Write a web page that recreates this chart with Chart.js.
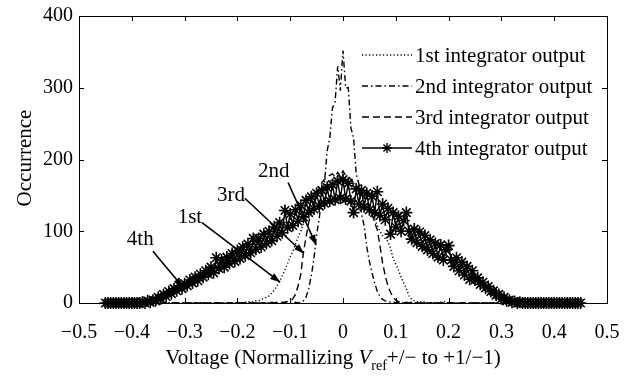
<!DOCTYPE html>
<html>
<head>
<meta charset="utf-8">
<script src="https://cdn.jsdelivr.net/npm/chart.js@4.4.1/dist/chart.umd.min.js"></script>
<style>
  html, body { margin: 0; padding: 0; background: #fff; }
  #wrap { width: 633px; height: 378px; }
</style>
</head>
<body>
<div id="wrap"><canvas id="histChart" width="633" height="378"></canvas></div>
<script>
// histogram bins, centres from -0.45 to 0.45
var binStart = -0.45, binWidth = 0.005;

// occurrence per bin (10 bins per row = 0.05 V)
var occ1st = [
  0,0,0,0,0,0,0,0,0,0,
  0,0,0,0,0,0,0,0,0,0,
  0,0,0,0,0,0,0,0,0,0,
  0,0,0,0,0,0,0,0,0,0,
  0,0,0,0,0,0,0,0,0,0,
  0,1,0,1,2,1,2,3,3,5,
  6,8,10,14,18,24,30,38,46,55,
  64,72,82,92,100,110,118,126,134,142,
  150,156,160,164,168,170,172,174,176,175,
  178,174,172,170,166,163,158,152,146,138,
  132,124,116,108,100,94,90,86,76,62,
  54,46,36,28,20,10,5,3,2,1,
  2,1,0,1,0,1,0,1,2,1,
  0,0,0,0,0,0,0,0,0,0,
  0,0,0,0,0,0,0,0,0,0,
  0,0,0,0,0,0,0,0,0,0,
  0,0,0,0,0,0,0,0,0,0,
  0,0,0,0,0,0,0,0,0,0,
  0
];
var occ2nd = [
  0,0,0,0,0,0,0,0,0,0,
  0,0,0,0,0,0,0,0,0,0,
  0,0,0,0,0,0,0,0,0,0,
  0,0,0,0,0,0,0,0,0,0,
  0,0,0,0,0,0,0,0,0,0,
  0,0,0,0,0,0,0,0,0,0,
  0,0,0,0,0,0,0,0,0,0,
  0,0,1,0,1,3,8,20,38,62,
  95,118,150,168,212,230,272,280,330,296,
  352,300,300,244,230,180,166,124,108,78,
  58,42,28,16,9,5,3,2,1,2,
  0,1,0,1,0,0,1,0,0,0,
  0,0,0,0,0,0,0,0,0,0,
  0,0,0,0,0,0,0,0,0,0,
  0,0,0,0,0,0,0,0,0,0,
  0,0,0,0,0,0,0,0,0,0,
  0,0,0,0,0,0,0,0,0,0,
  0,0,0,0,0,0,0,0,0,0,
  0
];
var occ3rd = [
  0,0,0,0,0,0,0,0,0,0,
  0,0,0,0,0,0,0,0,0,0,
  0,0,0,0,0,0,0,0,0,0,
  0,0,0,0,0,0,0,0,0,0,
  0,0,0,0,0,0,0,0,0,0,
  0,0,0,0,0,0,0,0,0,0,
  0,0,0,1,0,1,0,1,1,2,
  3,6,12,24,40,70,92,112,128,140,
  152,160,168,172,176,178,180,176,182,176,
  184,178,176,172,168,164,160,154,148,140,
  132,124,112,102,80,56,38,24,15,8,
  4,2,1,0,1,0,0,0,0,0,
  0,0,0,0,0,0,0,0,0,0,
  0,0,0,0,0,0,0,0,0,0,
  0,0,0,0,0,0,0,0,0,0,
  0,0,0,0,0,0,0,0,0,0,
  0,0,0,0,0,0,0,0,0,0,
  0,0,0,0,0,0,0,0,0,0,
  0
];
var occ4th = [
  0,0,0,0,0,0,0,0,0,0,
  0,0,0,0,1,0,3,1,4,3,
  8,6,12,9,16,13,20,17,24,20,
  27,24,32,28,36,31,40,36,45,40,
  50,42,63,48,60,50,64,55,69,58,
  73,62,78,66,82,70,90,75,90,78,
  96,83,100,87,106,93,112,98,129,105,
  124,108,130,114,136,120,143,126,148,131,
  153,135,157,139,161,142,165,144,170,146,
  172,145,167,142,126,159,138,157,134,153,
  130,149,126,155,122,138,116,132,96,126,
  106,121,100,115,126,100,89,103,84,99,
  79,94,74,88,69,83,64,81,60,74,
  80,60,51,63,45,57,39,51,33,45,
  32,35,26,29,21,23,16,17,11,12,
  6,8,3,4,1,2,0,1,0,0,
  0,0,0,0,0,0,0,0,0,0,
  0,0,0,0,0,0,0,0,0,0,
  0
];

var seriesNames = ['1st integrator output', '2nd integrator output',
                   '3rd integrator output', '4th integrator output'];
var xTicks = [-0.5, -0.4, -0.3, -0.2, -0.1, 0, 0.1, 0.2, 0.3, 0.4, 0.5];
var yTicks = [0, 100, 200, 300, 400];

// arrow callouts, in data units
var callouts = [
  { text: '4th', tx: -0.384, ty: 88,  x1: -0.360, y1: 72,  x2: -0.303, y2: 22 },
  { text: '1st', tx: -0.290, ty: 119, x1: -0.267, y1: 112, x2: -0.119, y2: 29 },
  { text: '3rd', tx: -0.212, ty: 150, x1: -0.186, y1: 146, x2: -0.074, y2: 69 },
  { text: '2nd', tx: -0.131, ty: 183, x1: -0.104, y1: 168, x2: -0.051, y2: 81 }
];

var serif = '"Liberation Serif", "Times New Roman", serif';
var dashes = [[1.2, 2.3], [6, 3, 1.5, 3], [7, 4], []];

function toPoints(arr) {
  return arr.map(function(v, i) {
    return { x: +(binStart + i * binWidth).toFixed(3), y: v };
  });
}

function fmtTick(v) {
  if (Math.abs(v) < 1e-9) return '0';
  return (v < 0 ? '\u2212' : '') + Math.abs(v).toFixed(1);
}

function drawArrow(ctx, x1, y1, x2, y2) {
  ctx.beginPath(); ctx.moveTo(x1, y1); ctx.lineTo(x2, y2); ctx.stroke();
  var a = Math.atan2(y2 - y1, x2 - x1), L = 10, W = 3.5;
  ctx.beginPath();
  ctx.moveTo(x2, y2);
  ctx.lineTo(x2 - L * Math.cos(a) + W * Math.sin(a), y2 - L * Math.sin(a) - W * Math.cos(a));
  ctx.lineTo(x2 - L * Math.cos(a) - W * Math.sin(a), y2 - L * Math.sin(a) + W * Math.cos(a));
  ctx.closePath(); ctx.fill();
}

var decorPlugin = {
  id: 'decor',
  afterDraw: function(chart) {
    var ctx = chart.ctx, ca = chart.chartArea;
    var xs = chart.scales.x, ys = chart.scales.y;
    ctx.save();
    ctx.strokeStyle = '#000'; ctx.fillStyle = '#000';

    // box + inward ticks
    ctx.lineWidth = 1;
    ctx.strokeRect(ca.left + 0.5, ca.top + 0.5, ca.right - ca.left, ca.bottom - ca.top);
    ctx.beginPath();
    xTicks.forEach(function(v) {
      var px = Math.round(xs.getPixelForValue(v)) + 0.5;
      ctx.moveTo(px, ca.bottom); ctx.lineTo(px, ca.bottom - 5);
      ctx.moveTo(px, ca.top); ctx.lineTo(px, ca.top + 5);
    });
    yTicks.forEach(function(v) {
      var py = Math.round(ys.getPixelForValue(v)) + 0.5;
      ctx.moveTo(ca.left, py); ctx.lineTo(ca.left + 5, py);
      ctx.moveTo(ca.right, py); ctx.lineTo(ca.right - 5, py);
    });
    ctx.stroke();

    // legend (no frame), top right inside plot
    var lx0 = ca.left + 283, lx1 = ca.left + 333, tx = ca.left + 336;
    var rows = [55, 86, 117, 148];
    ctx.font = '21px ' + serif;
    ctx.textAlign = 'left'; ctx.textBaseline = 'middle';
    seriesNames.forEach(function(name, i) {
      var y = rows[i];
      ctx.setLineDash(dashes[i]);
      ctx.lineWidth = 1.4;
      ctx.beginPath(); ctx.moveTo(lx0, y); ctx.lineTo(lx1, y); ctx.stroke();
      ctx.setLineDash([]);
      if (i === 3) {
        Chart.helpers.drawPoint(ctx, { pointStyle: 'star', radius: 5, rotation: 0, borderWidth: 1.4 },
                                (lx0 + lx1) / 2, y);
      }
      ctx.fillText(name, tx, y + 1);
    });

    // callouts
    ctx.lineWidth = 1.6;
    ctx.textAlign = 'center';
    callouts.forEach(function(c) {
      ctx.fillText(c.text, xs.getPixelForValue(c.tx), ys.getPixelForValue(c.ty));
      drawArrow(ctx, xs.getPixelForValue(c.x1), ys.getPixelForValue(c.y1),
                     xs.getPixelForValue(c.x2), ys.getPixelForValue(c.y2));
    });

    // y axis title
    ctx.save();
    ctx.translate(25, 158);
    ctx.rotate(-Math.PI / 2);
    ctx.font = '21px ' + serif;
    ctx.textAlign = 'center'; ctx.textBaseline = 'middle';
    ctx.fillText('Occurrence', 0, 0);
    ctx.restore();

    // x axis title with italic V and subscript ref
    var parts = [
      { t: 'Voltage (Normallizing ', f: '21px ' + serif, dy: 0 },
      { t: 'V', f: 'italic 21px ' + serif, dy: 0 },
      { t: 'ref', f: '14px ' + serif, dy: 6 },
      { t: '+/\u2212 to +1/\u22121)', f: '21px ' + serif, dy: 0 }
    ];
    var total = 0;
    parts.forEach(function(p) { ctx.font = p.f; p.w = ctx.measureText(p.t).width; total += p.w; });
    var cx = 333 - total / 2, by = 364;
    ctx.textAlign = 'left'; ctx.textBaseline = 'alphabetic';
    parts.forEach(function(p) {
      ctx.font = p.f;
      ctx.fillText(p.t, cx, by + p.dy);
      cx += p.w;
    });
    ctx.restore();
  }
};

function lineSet(i, arr) {
  return {
    label: seriesNames[i],
    data: toPoints(arr),
    borderColor: '#000',
    backgroundColor: '#000',
    borderWidth: 1.4,
    borderDash: dashes[i],
    pointRadius: 0,
    tension: 0,
    clip: false,
    order: 1
  };
}

var star = lineSet(3, occ4th);
star.borderWidth = 1.4;
star.pointStyle = 'star';
star.pointRadius = 6;
star.pointBorderWidth = 1.6;
star.pointBorderColor = '#000';
star.order = 0;

new Chart(document.getElementById('histChart'), {
  type: 'line',
  data: {
    datasets: [lineSet(0, occ1st), lineSet(1, occ2nd), lineSet(2, occ3rd), star]
  },
  options: {
    responsive: false,
    animation: false,
    devicePixelRatio: 1,
    layout: { padding: { top: 16, right: 26, left: 0, bottom: 0 } },
    plugins: { legend: { display: false }, tooltip: { enabled: false } },
    scales: {
      x: {
        type: 'linear', min: -0.5, max: 0.5,
        afterBuildTicks: function(s) { s.ticks = xTicks.map(function(v) { return { value: v }; }); },
        afterFit: function(s) { s.height = 75; s.paddingLeft = 0; s.paddingRight = 0; },
        grid: { display: false, drawTicks: false },
        border: { display: false },
        ticks: {
          color: '#000', padding: 18, maxRotation: 0, autoSkip: false,
          font: { family: serif, size: 20 },
          callback: fmtTick
        }
      },
      y: {
        min: 0, max: 400,
        afterBuildTicks: function(s) { s.ticks = yTicks.map(function(v) { return { value: v }; }); },
        afterFit: function(s) { s.width = 79; s.paddingTop = 0; s.paddingBottom = 0; },
        grid: { display: false, drawTicks: false },
        border: { display: false },
        ticks: {
          color: '#000', padding: 6,
          font: { family: serif, size: 20 }
        }
      }
    }
  },
  plugins: [decorPlugin]
});
</script>
</body>
</html>
